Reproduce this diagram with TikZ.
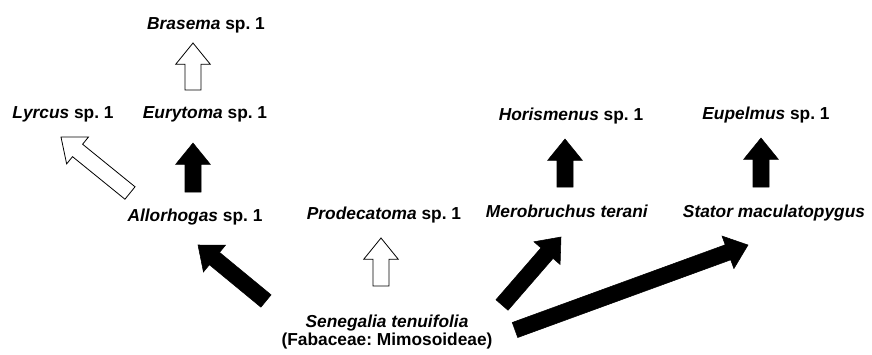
\documentclass[tikz,border=0pt]{standalone}
\usepackage{fontspec}
\setmainfont{Liberation Sans}
\usetikzlibrary{calc,positioning}
\tikzset{
    taxon/.style={
        font=\bfseries\fontsize{13}{15.6}\selectfont\frenchspacing,
        inner sep=0pt,
        anchor=base,
    },
    fatblack/.style={
        fill=black,
        draw=black,
        line width=0.4pt,
    },
    fatwhite/.style={
        fill=white,
        draw=black,
        line width=0.6pt,
    },
}
% block arrow from #2 (tail) to #3 (tip)
\newcommand{\fatarrow}[3][fatblack]{%
    \coordinate (head) at ($(#3)!16pt!(#2)$);
    \draw[#1] ($(#2)!6pt!90:(#3)$) -- ($(head)!6pt!90:(#3)$)
        -- ($(head)!13pt!90:(#3)$) -- (#3) -- ($(head)!13pt!-90:(#3)$)
        -- ($(head)!6pt!-90:(#3)$) -- ($(#2)!6pt!-90:(#3)$) -- cycle;
}

\begin{document}
\begin{tikzpicture}[x=0.75pt,y=-0.75pt]
    \useasboundingbox (0,0) rectangle (872,354);

    \node [taxon] (brasema) at (206,29.5) {\textit{Brasema} sp. 1};
    \node [taxon] (lyrcus) at (63,118) {\textit{Lyrcus} sp. 1};
    \node [taxon] (eurytoma) at (205,118) {\textit{Eurytoma} sp. 1};
    \node [taxon] (allorhogas) at (195,221) {\textit{Allorhogas} sp. 1};
    \node [taxon] (prodecatoma) at (384,219) {\textit{Prodecatoma} sp. 1};
    \node [taxon] (merobruchus) at (567,217) {\textit{Merobruchus terani}};
    \node [taxon] (stator) at (774,217) {\textit{Stator maculatopygus}};
    \node [taxon] (horismenus) at (571,120) {\textit{Horismenus} sp. 1};
    \node [taxon] (eupelmus) at (766,119) {\textit{Eupelmus} sp. 1};
    \node [taxon] (senegalia) at (387,327.5) {\textit{Senegalia tenuifolia}};
    \node [taxon] (family) at (387,345.5) {(Fabaceae: Mimosoideae)};

    % arrow ends
    \coordinate (br-tail) at (193,90);   \coordinate (br-tip) at (193,43);
    \coordinate (eu-tail) at (193,192);  \coordinate (eu-tip) at (193,143);
    \coordinate (ly-tail) at (130,193);  \coordinate (ly-tip) at (61,137);
    \coordinate (pr-tail) at (381,286);  \coordinate (pr-tip) at (381,238);
    \coordinate (al-tail) at (266,301);  \coordinate (al-tip) at (198,245);
    \coordinate (me-tail) at (502,305);  \coordinate (me-tip) at (561,237);
    \coordinate (st-tail) at (515,330);  \coordinate (st-tip) at (748,245);
    \coordinate (ho-tail) at (565,187);  \coordinate (ho-tip) at (565,139);
    \coordinate (ep-tail) at (761,187);  \coordinate (ep-tip) at (761,138);

    \fatarrow[fatwhite]{br-tail}{br-tip}
    \fatarrow{eu-tail}{eu-tip}
    \fatarrow[fatwhite]{ly-tail}{ly-tip}
    \fatarrow[fatwhite]{pr-tail}{pr-tip}
    \fatarrow{al-tail}{al-tip}
    \fatarrow{me-tail}{me-tip}
    \fatarrow{st-tail}{st-tip}
    \fatarrow{ho-tail}{ho-tip}
    \fatarrow{ep-tail}{ep-tip}
\end{tikzpicture}
\end{document}
